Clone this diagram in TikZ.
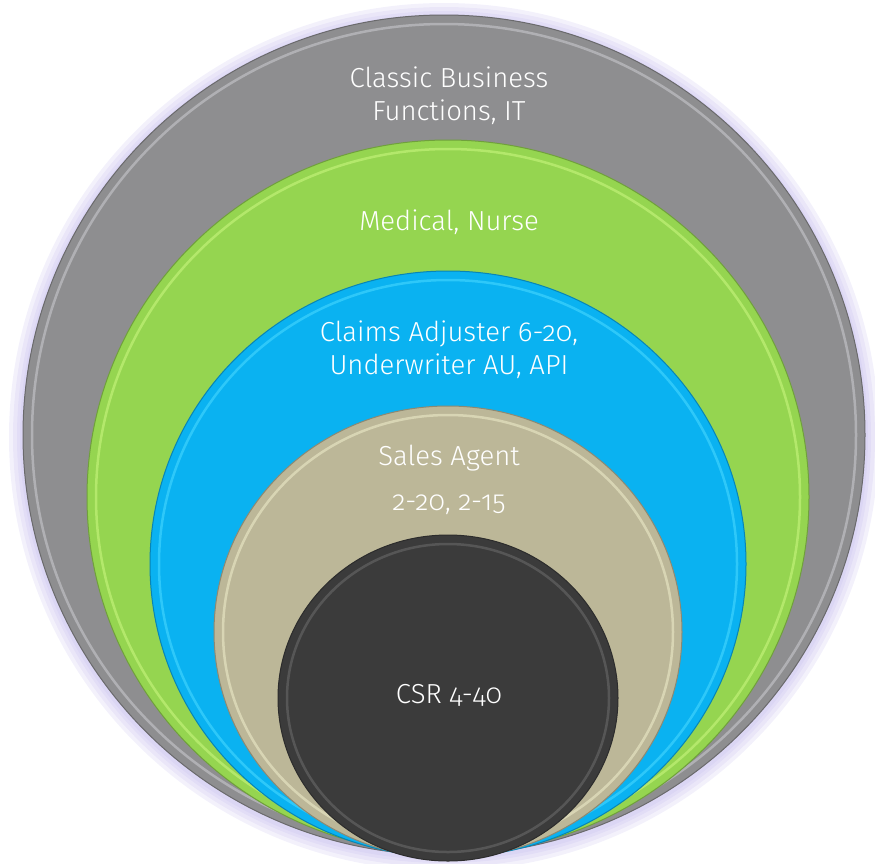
\documentclass[tikz,border=0pt]{standalone}
\usepackage{fontspec}
\setmainfont{Fira Sans}[UprightFont=* Light, Numbers=OldStyle]
\usepackage{tikz}
\definecolor{ringgray}{RGB}{142,142,144}
\definecolor{rimgray}{RGB}{200,200,204}
\definecolor{ringgreen}{RGB}{149,213,80}
\definecolor{rimgreen}{RGB}{200,245,125}
\definecolor{ringblue}{RGB}{10,178,241}
\definecolor{rimblue}{RGB}{70,215,255}
\definecolor{ringtan}{RGB}{188,183,152}
\definecolor{rimtan}{RGB}{236,234,200}
\definecolor{ringdark}{RGB}{59,59,59}
\definecolor{rimdark}{RGB}{105,105,105}
\definecolor{glow}{RGB}{190,180,235}
\tikzset{label text/.style={text=white, align=center, font=\fontsize{27.5}{33}\selectfont}}
% #1,#2 centre, #3,#4 radii, #5 fill, #6 rim
\newcommand{\disc}[6]{%
  \fill[#5, draw=#5!75!black, line width=1pt] (#1,#2) ellipse [x radius=#3, y radius=#4];
  \draw[#6, line width=2.5pt, opacity=0.6] (#1,#2) ellipse [x radius=#3-9, y radius=#4-9];
}

\begin{document}
\begin{tikzpicture}[x=1pt, y=-1pt]
    \path[use as bounding box] (0, 0) rectangle (875, 863);

    \foreach \g in {14,10,6,3}
        \fill[glow, opacity=0.18] (444, 437) ellipse [x radius=421+\g, y radius=420+\g];

    \disc{444}{435}{421}{420}{ringgray}{rimgray}
    \disc{448}{497}{361}{357}{ringgreen}{rimgreen}
    \disc{448}{564}{298}{293}{ringblue}{rimblue}
    \disc{448}{632}{234}{226}{ringtan}{rimtan}
    \disc{448}{698}{170}{163}{ringdark}{rimdark}

    \node[label text] at (449, 96)  (classic) {Classic Business\\Functions, IT};
    \node[label text] at (449, 222) (medical) {Medical, Nurse};
    \node[label text] at (449, 350) (claims)  {Claims Adjuster 6-20,\\Underwriter AU, API};
    \node[label text] at (449, 458) (sales)   {Sales Agent};
    \node[label text] at (449, 505) (salesnum) {2-20, 2-15};
    \node[label text] at (449, 695) (csr)     {CSR 4-40};
\end{tikzpicture}
\end{document}
